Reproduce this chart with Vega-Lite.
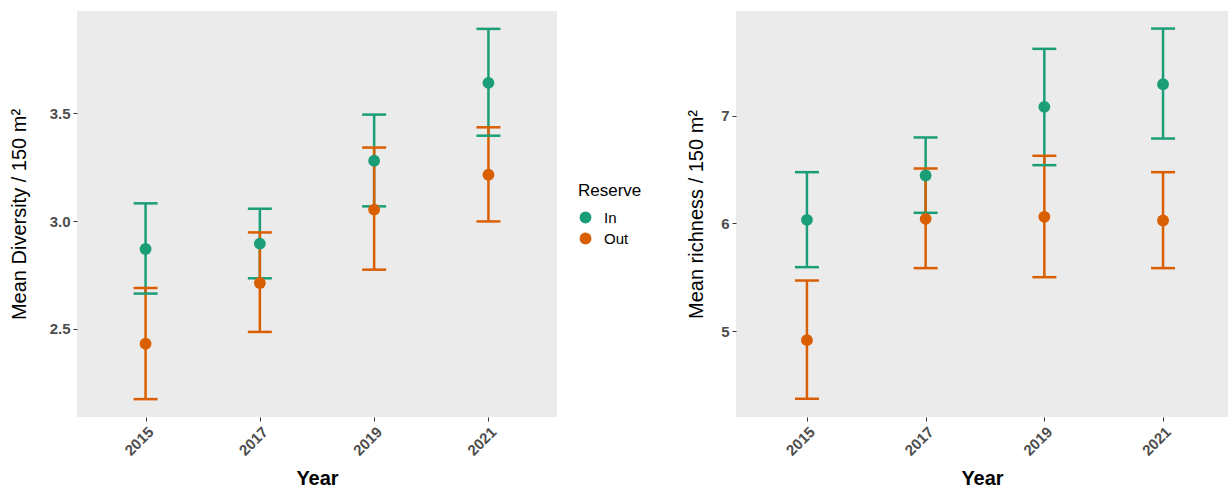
{
  "$schema": "https://vega.github.io/schema/vega-lite/v6.json",
  "padding": {"left": 9, "top": 11, "right": 0, "bottom": 0},
  "background": "white",
  "config": {
    "view": {"fill": "#EBEBEB", "stroke": null},
    "axis": {
      "grid": false, "domain": false,
      "labelFont": "Liberation Sans", "labelFontWeight": "bold", "labelColor": "#4D4D4D", "labelFontSize": 15, "labelPadding": 3,
      "tickColor": "#333333", "tickSize": 4, "tickWidth": 1,
      "titleFont": "Liberation Sans", "titleFontSize": 20, "titleColor": "#000000", "titleFontWeight": "normal"
    },
    "legend": {
      "titleFont": "Liberation Sans", "titleFontSize": 17, "titleFontWeight": "normal", "titleColor": "#000000",
      "labelFont": "Liberation Sans", "labelFontSize": 15, "labelColor": "#000000", "labelOffset": 11,
      "symbolType": "circle", "symbolSize": 140, "symbolOpacity": 1, "symbolStrokeWidth": 0, "rowPadding": 5, "titlePadding": 10
    },
    "concat": {"spacing": 44}
  },
  "datasets": {
    "div": [
      {"Year": "2015", "Reserve": "In", "mean": 2.870, "lower": 2.663, "upper": 3.082},
      {"Year": "2017", "Reserve": "In", "mean": 2.895, "lower": 2.734, "upper": 3.057},
      {"Year": "2019", "Reserve": "In", "mean": 3.280, "lower": 3.068, "upper": 3.494},
      {"Year": "2021", "Reserve": "In", "mean": 3.641, "lower": 3.396, "upper": 3.892},
      {"Year": "2015", "Reserve": "Out", "mean": 2.430, "lower": 2.173, "upper": 2.689},
      {"Year": "2017", "Reserve": "Out", "mean": 2.712, "lower": 2.485, "upper": 2.947},
      {"Year": "2019", "Reserve": "Out", "mean": 3.053, "lower": 2.774, "upper": 3.341},
      {"Year": "2021", "Reserve": "Out", "mean": 3.215, "lower": 2.998, "upper": 3.435}
    ],
    "rich": [
      {"Year": "2015", "Reserve": "In", "mean": 6.034, "lower": 5.595, "upper": 6.476},
      {"Year": "2017", "Reserve": "In", "mean": 6.445, "lower": 6.099, "upper": 6.798},
      {"Year": "2019", "Reserve": "In", "mean": 7.082, "lower": 6.541, "upper": 7.620},
      {"Year": "2021", "Reserve": "In", "mean": 7.292, "lower": 6.788, "upper": 7.808},
      {"Year": "2015", "Reserve": "Out", "mean": 4.918, "lower": 4.374, "upper": 5.471},
      {"Year": "2017", "Reserve": "Out", "mean": 6.043, "lower": 5.586, "upper": 6.510},
      {"Year": "2019", "Reserve": "Out", "mean": 6.062, "lower": 5.502, "upper": 6.628},
      {"Year": "2021", "Reserve": "Out", "mean": 6.028, "lower": 5.586, "upper": 6.476}
    ]
  },
  "hconcat": [
    {
      "width": 480, "height": 406,
      "data": {"name": "div"},
      "encoding": {
        "x": {"field": "Year", "type": "ordinal", "scale": {"type": "point", "padding": 0.6},
              "axis": {"labelAngle": -45, "title": "Year", "titleFontWeight": "bold", "titlePadding": 10}},
        "color": {"field": "Reserve", "type": "nominal", "scale": {"domain": ["In", "Out"], "range": ["#1B9E77", "#D95F02"]},
                  "legend": {"title": "Reserve", "orient": "none", "legendX": 501, "legendY": 172}}
      },
      "layer": [
        {"mark": {"type": "rule", "strokeWidth": 2.5},
         "encoding": {"y": {"field": "lower", "type": "quantitative", "title": "Mean Diversity / 150 m²",
                            "scale": {"domain": [2.090, 3.975], "nice": false, "zero": false},
                            "axis": {"values": [2.5, 3.0, 3.5], "format": ".1f", "titlePadding": 20}},
                      "y2": {"field": "upper"}}},
        {"mark": {"type": "tick", "size": 24, "thickness": 2.5, "opacity": 1},
         "encoding": {"y": {"field": "lower", "type": "quantitative", "title": "Mean Diversity / 150 m²"}}},
        {"mark": {"type": "tick", "size": 24, "thickness": 2.5, "opacity": 1},
         "encoding": {"y": {"field": "upper", "type": "quantitative", "title": "Mean Diversity / 150 m²"}}},
        {"mark": {"type": "point", "filled": true, "size": 140, "opacity": 1},
         "encoding": {"y": {"field": "mean", "type": "quantitative", "title": "Mean Diversity / 150 m²"}}}
      ]
    },
    {
      "width": 492, "height": 406,
      "data": {"name": "rich"},
      "encoding": {
        "x": {"field": "Year", "type": "ordinal", "scale": {"type": "point", "padding": 0.5725, "align": 0.522},
              "axis": {"labelAngle": -45, "title": "Year", "titleFontWeight": "bold", "titlePadding": 10}},
        "color": {"field": "Reserve", "type": "nominal", "scale": {"domain": ["In", "Out"], "range": ["#1B9E77", "#D95F02"]}, "legend": null}
      },
      "layer": [
        {"mark": {"type": "rule", "strokeWidth": 2.5},
         "encoding": {"y": {"field": "lower", "type": "quantitative", "title": "Mean richness / 150 m²",
                            "scale": {"domain": [4.205, 7.971], "nice": false, "zero": false},
                            "axis": {"values": [5, 6, 7], "format": "d", "titlePadding": 14}},
                      "y2": {"field": "upper"}}},
        {"mark": {"type": "tick", "size": 24, "thickness": 2.5, "opacity": 1},
         "encoding": {"y": {"field": "lower", "type": "quantitative", "title": "Mean richness / 150 m²"}}},
        {"mark": {"type": "tick", "size": 24, "thickness": 2.5, "opacity": 1},
         "encoding": {"y": {"field": "upper", "type": "quantitative", "title": "Mean richness / 150 m²"}}},
        {"mark": {"type": "point", "filled": true, "size": 140, "opacity": 1},
         "encoding": {"y": {"field": "mean", "type": "quantitative", "title": "Mean richness / 150 m²"}}}
      ]
    }
  ],
  "resolve": {"scale": {"color": "independent", "x": "independent", "y": "independent"}, "legend": {"color": "independent"}}
}
